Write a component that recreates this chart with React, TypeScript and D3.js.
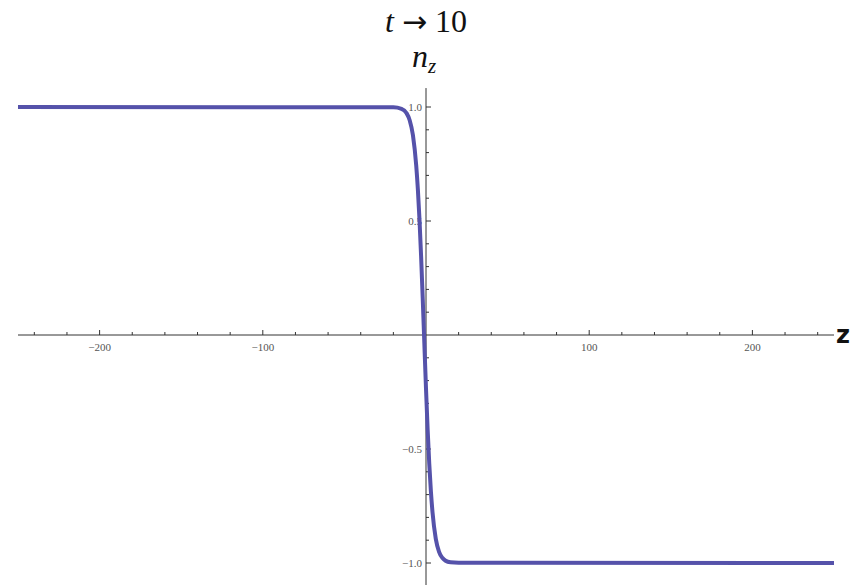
import React from "react";
import * as d3 from "d3";

// Domain wall profile n_z(z) at t → 10
const zValues = [-250, -20, -15, -12, -10, -8, -6, -5, -4, -3, -2, -1, 0, 1, 2, 3, 4, 6, 8, 10, 12, 15, 20, 250];
const nzValues = [1, 0.999, 0.992, 0.974, 0.942, 0.876, 0.744, 0.641, 0.508, 0.345, 0.159, -0.04, -0.235, -0.414, -0.565, -0.686, -0.778, -0.894, -0.951, -0.977, -0.99, -0.997, -0.999, -1];

const xMajorTicks = [-200, -100, 100, 200];
const xMinorTicks = d3.range(-240, 241, 20).filter((v) => v % 100 !== 0);
const yMajorTicks = [-1, -0.5, 0.5, 1];
const yMinorTicks = d3.range(-10, 11).map((v) => v / 10).filter((v) => v !== 0 && Math.abs(v) !== 0.5 && Math.abs(v) !== 1);

const W = 851;
const H = 585;

const fmtX = (v: number) => (v < 0 ? "\u2212" + Math.abs(v) : String(v));
const fmtY = (v: number) => (v < 0 ? "\u2212" + Math.abs(v).toFixed(1) : v.toFixed(1));

export default function App() {
  const x = d3.scaleLinear().domain([-250, 250]).range([18, 834]);
  const y = d3.scaleLinear().domain([-1, 1]).range([563, 107]);
  const x0 = x(0);
  const y0 = y(0);

  const data = zValues.map((z, i) => [z, nzValues[i]] as [number, number]);
  const line = d3
    .line<[number, number]>()
    .x((d) => x(d[0]))
    .y((d) => y(d[1]))
    .curve(d3.curveMonotoneX);

  const serif = "'Liberation Serif', 'DejaVu Serif', serif";
  const axisColor = "#333";
  const labelColor = "#555";

  return (
    <svg
      width={W}
      height={H}
      style={{ position: "absolute", left: 0, top: 0, background: "#fff" }}
    >
      <rect x={0} y={0} width={W} height={H} fill="#fff" />

      {/* Title */}
      <text x={426} y={32} textAnchor="middle" fontFamily={serif} fontSize={32} fill="#111">
        <tspan fontStyle="italic">t</tspan>
        <tspan> </tspan>
        <tspan fontFamily="'DejaVu Sans', sans-serif" fontSize={30}>→</tspan>
        <tspan> 10</tspan>
      </text>

      {/* Vertical axis label */}
      <text x={424} y={67} textAnchor="middle" fontFamily={serif} fontSize={32} fill="#111" fontStyle="italic">
        <tspan>n</tspan>
        <tspan fontSize={21} dy={6}>z</tspan>
      </text>

      {/* Horizontal axis */}
      <line x1={x(-250)} x2={x(250)} y1={y0} y2={y0} stroke={axisColor} strokeWidth={1} />
      {xMinorTicks.map((v) => (
        <line key={"xm" + v} x1={x(v)} x2={x(v)} y1={y0} y2={y0 - 3} stroke={axisColor} strokeWidth={1} />
      ))}
      {xMajorTicks.map((v) => (
        <g key={"xM" + v}>
          <line x1={x(v)} x2={x(v)} y1={y0} y2={y0 - 5} stroke={axisColor} strokeWidth={1} />
          <text x={x(v)} y={y0 + 16} textAnchor="middle" fontFamily={serif} fontSize={11} fill={labelColor}>
            {fmtX(v)}
          </text>
        </g>
      ))}
      <text x={836} y={y0 + 8} fontFamily="'DejaVu Sans', sans-serif" fontWeight="bold" fontSize={24} fill="#111">
        z
      </text>

      {/* Vertical axis */}
      <line x1={x0} x2={x0} y1={y(1.083)} y2={H} stroke={axisColor} strokeWidth={1} />
      {yMinorTicks.map((v) => (
        <line key={"ym" + v} x1={x0} x2={x0 + 3} y1={y(v)} y2={y(v)} stroke={axisColor} strokeWidth={1} />
      ))}
      {yMajorTicks.map((v) => (
        <g key={"yM" + v}>
          <line x1={x0} x2={x0 + 5} y1={y(v)} y2={y(v)} stroke={axisColor} strokeWidth={1} />
          <text x={x0 - 4} y={y(v) + 4} textAnchor="end" fontFamily={serif} fontSize={11} fill={labelColor}>
            {fmtY(v)}
          </text>
        </g>
      ))}

      {/* Curve */}
      <path d={line(data) || ""} fill="none" stroke="#5552aa" strokeWidth={4} strokeLinejoin="round" />
    </svg>
  );
}
